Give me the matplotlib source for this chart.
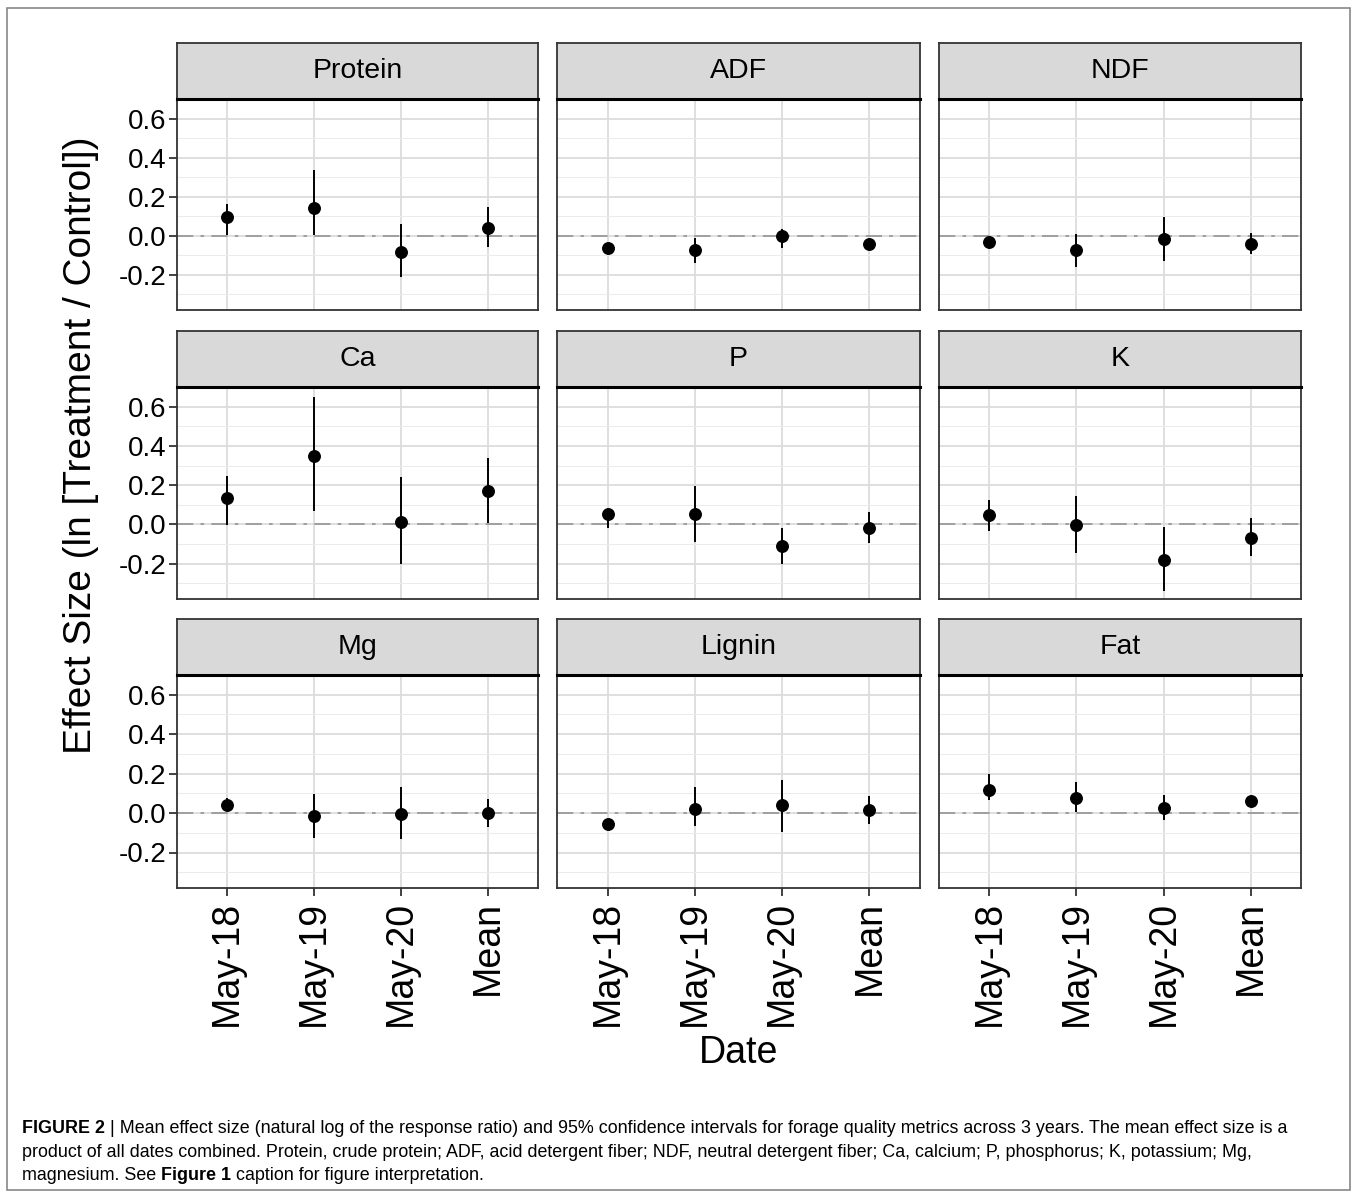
import matplotlib
matplotlib.use("Agg")
import matplotlib.pyplot as plt
from matplotlib.patches import Rectangle
import numpy as np

plt.rcParams['font.family'] = ['Liberation Sans', 'DejaVu Sans']
plt.rcParams['axes.unicode_minus'] = False

# data
metrics = ["Protein", "ADF", "NDF", "Ca", "P", "K", "Mg", "Lignin", "Fat"]
dates = ["May-18", "May-19", "May-20", "Mean"]

effect = [
    [0.095, 0.143, -0.085, 0.041],
    [-0.065, -0.072, 0.0, -0.043],
    [-0.034, -0.073, -0.017, -0.044],
    [0.132, 0.350, 0.013, 0.172],
    [0.054, 0.054, -0.110, -0.017],
    [0.047, -0.003, -0.183, -0.071],
    [0.042, -0.015, -0.003, 0.002],
    [-0.058, 0.022, 0.042, 0.014],
    [0.119, 0.076, 0.025, 0.059],
]
ci_lower = [
    [0.005, 0.005, -0.213, -0.055],
    [-0.085, -0.140, -0.065, -0.065],
    [-0.055, -0.162, -0.128, -0.094],
    [-0.003, 0.068, -0.203, 0.005],
    [-0.017, -0.088, -0.203, -0.096],
    [-0.034, -0.144, -0.338, -0.161],
    [0.014, -0.126, -0.131, -0.071],
    [-0.080, -0.066, -0.097, -0.054],
    [0.065, 0.005, -0.037, 0.040],
]
ci_upper = [
    [0.162, 0.337, 0.060, 0.145],
    [-0.045, -0.009, 0.035, -0.020],
    [-0.015, 0.008, 0.097, 0.014],
    [0.245, 0.651, 0.242, 0.338],
    [0.080, 0.198, -0.017, 0.063],
    [0.123, 0.147, -0.014, 0.034],
    [0.076, 0.099, 0.133, 0.073],
    [-0.040, 0.133, 0.170, 0.085],
    [0.197, 0.158, 0.090, 0.080],
]
y_ticks = [-0.2, 0.0, 0.2, 0.4, 0.6]
y_minor = [-0.3, -0.1, 0.1, 0.3, 0.5]

W, H = 1358, 1197
fig = plt.figure(figsize=(W / 100, H / 100), dpi=100)


def box(x0, y0, x1, y1):
    return [x0 / W, 1 - y1 / H, (x1 - x0) / W, (y1 - y0) / H]


# outer frame of the figure page
fig.patches.append(Rectangle((7 / W, 1 - 1190 / H), (1350 - 7) / W, (1190 - 8) / H,
                             transform=fig.transFigure, fill=False,
                             edgecolor='#888888', linewidth=1.2))

col_x = [(177, 538), (557, 920), (939, 1301)]
row_y = [(43, 99, 310), (331, 387, 599), (619, 675, 888)]
x = np.arange(1, len(dates) + 1)

for i, name in enumerate(metrics):
    r, c = divmod(i, 3)
    x0, x1 = col_x[c]
    st, pt, pb = row_y[r]

    ax = fig.add_axes(box(x0, pt, x1, pb))
    ax.set_xlim(0.42, 4.58)
    ax.set_ylim(-0.38, 0.70)
    ax.set_yticks(y_ticks)
    ax.set_yticks(y_minor, minor=True)
    ax.set_xticks(x)
    ax.grid(True, which='major', color='#DCDCDC', linewidth=1.3)
    ax.grid(True, which='minor', axis='y', color='#EBEBEB', linewidth=0.7)
    ax.set_axisbelow(True)
    ax.axhline(0, color='#9A9A9A', linewidth=1.3, dashes=(9, 4, 2, 4), zorder=1)

    ax.vlines(x, ci_lower[i], ci_upper[i], color='black', linewidth=1.4, zorder=3)
    ax.plot(x, effect[i], 'o', color='black', markersize=8.3, zorder=4)

    for s in ax.spines.values():
        s.set_color('#333333')
        s.set_linewidth(1.3)
    ax.tick_params(axis='both', which='minor', length=0)
    ax.tick_params(axis='both', which='major', color='#333333', width=1.3, length=5.5)

    if c == 0:
        ax.set_yticklabels([f"{v:.1f}" for v in y_ticks], fontsize=20)
        ax.tick_params(axis='y', pad=2)
    else:
        ax.tick_params(axis='y', length=0, labelleft=False)
    if r == 2:
        ax.set_xticklabels(dates, rotation=90, fontsize=27, va='top')
        ax.tick_params(axis='x', pad=4)
    else:
        ax.tick_params(axis='x', length=0, labelbottom=False)

    sax = fig.add_axes(box(x0, st, x1, pt))
    sax.set_facecolor('#D9D9D9')
    sax.set_xticks([])
    sax.set_yticks([])
    for s in sax.spines.values():
        s.set_color('#333333')
        s.set_linewidth(1.3)
    sax.spines['bottom'].set_linewidth(2.2)
    sax.spines['bottom'].set_color('black')
    sax.text(0.5, 0.5, name, ha='center', va='center', fontsize=20.5,
             transform=sax.transAxes)

fig.text(81 / W, 1 - 445 / H, "Effect Size (ln [Treatment / Control])",
         rotation=90, ha='center', va='center', fontsize=28)
fig.text(739 / W, 1 - 1053 / H, "Date", ha='center', va='center', fontsize=27)

# caption with bold pieces
cap_fs = 12.9
t = fig.text(22 / W, 1 - 1137 / H, "FIGURE 2", weight='bold', fontsize=cap_fs, va='bottom')
plt.annotate(" | Mean effect size (natural log of the response ratio) and 95% confidence "
             "intervals for forage quality metrics across 3 years. The mean effect size is a",
             xy=(1, 0), xycoords=t, va='bottom', ha='left', fontsize=cap_fs,
             annotation_clip=False)
fig.text(22 / W, 1 - 1161 / H,
         "product of all dates combined. Protein, crude protein; ADF, acid detergent fiber; "
         "NDF, neutral detergent fiber; Ca, calcium; P, phosphorus; K, potassium; Mg,",
         fontsize=cap_fs, va='bottom')
t3 = fig.text(22 / W, 1 - 1184 / H, "magnesium. See ", fontsize=cap_fs, va='bottom')
t4 = plt.annotate("Figure 1", xy=(1, 0), xycoords=t3, va='bottom', ha='left',
                  fontsize=cap_fs, weight='bold', annotation_clip=False)
plt.annotate(" caption for figure interpretation.", xy=(1, 0), xycoords=t4,
             va='bottom', ha='left', fontsize=cap_fs, annotation_clip=False)

fig.savefig("out.png", dpi=100)
